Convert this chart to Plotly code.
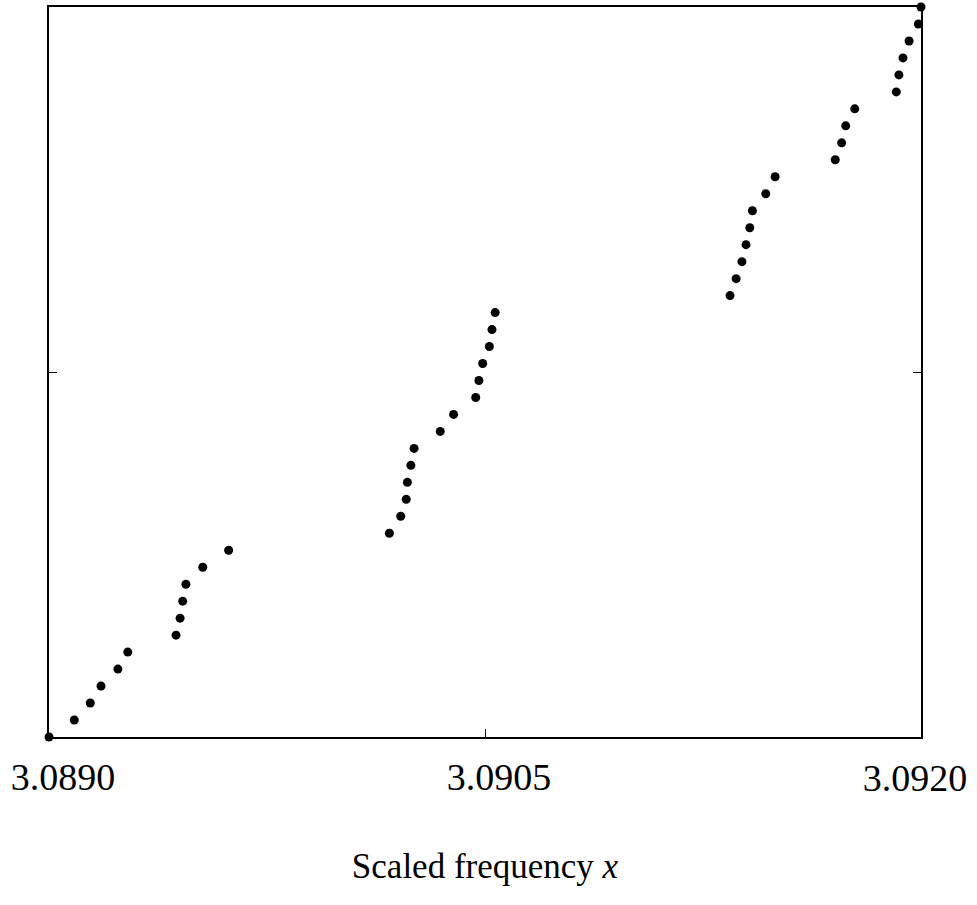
import plotly.graph_objects as go

# Scaled frequency x values of the points
x_values = [
    3.089000, 3.089087, 3.089142, 3.089179, 3.089237, 3.089271,
    3.089437, 3.089451, 3.089460, 3.089471, 3.089529, 3.089618,
    3.090171, 3.090210, 3.090229, 3.090233, 3.090245, 3.090256,
    3.090346, 3.090392, 3.090468, 3.090479, 3.090492, 3.090515,
    3.090524, 3.090535,
    3.091343, 3.091364, 3.091384, 3.091398, 3.091411, 3.091420,
    3.091466, 3.091498, 3.091705, 3.091727, 3.091741, 3.091772,
    3.091915, 3.091924, 3.091938, 3.091959, 3.091991, 3.092000,
]
# Cumulative count (unlabelled vertical axis)
y_values = list(range(len(x_values)))

x_tick_vals = [3.0890, 3.0905, 3.0920]
x_tick_text = ["3.0890", "3.0905", "3.0920"]
x_range = [3.0890, 3.0920]
x_title = "Scaled frequency <i>x</i>"

fig = go.Figure()
fig.add_trace(go.Scatter(
    x=x_values, y=y_values, mode="markers",
    marker=dict(color="black", size=9),
    cliponaxis=False, showlegend=False,
))
# empty trace so the overlaying axis (last tick label) is drawn
fig.add_trace(go.Scatter(x=[], y=[], xaxis="x2", showlegend=False))

tick_font = dict(size=38, family="Liberation Serif", color="black")

fig.update_layout(
    width=977, height=905,
    margin=dict(l=49, r=56, t=7, b=168, autoexpand=False),
    plot_bgcolor="white", paper_bgcolor="white",
    font=dict(family="Liberation Serif", color="black"),
    xaxis=dict(
        range=x_range,
        tickvals=x_tick_vals[:2], ticktext=x_tick_text[:2],
        ticks="inside", ticklen=8, tickcolor="black", tickwidth=1,
        showline=True, linecolor="black", linewidth=1.5, mirror=True,
        showgrid=False, zeroline=False,
        tickfont=tick_font,
        ticklabelstandoff=6,
        ticklabelshift=14,
        ticklabeloverflow="allow",
        automargin=False,
        title=dict(text=x_title, font=dict(size=35, family="Liberation Serif"), standoff=56),
    ),
    xaxis2=dict(
        overlaying="x", side="bottom", anchor="y",
        range=x_range,
        tickvals=x_tick_vals[2:], ticktext=x_tick_text[2:],
        ticks="", showline=False, showgrid=False, zeroline=False,
        tickfont=tick_font,
        ticklabelstandoff=15,
        ticklabelshift=-6,
        ticklabeloverflow="allow",
        automargin=False,
    ),
    yaxis=dict(
        range=[0, 43],
        tickvals=[21.5], showticklabels=False,
        ticks="inside", ticklen=8, tickcolor="black", tickwidth=1,
        showline=True, linecolor="black", linewidth=2, mirror="ticks",
        showgrid=False, zeroline=False,
        automargin=False,
    ),
)

fig.write_html("out.html")
